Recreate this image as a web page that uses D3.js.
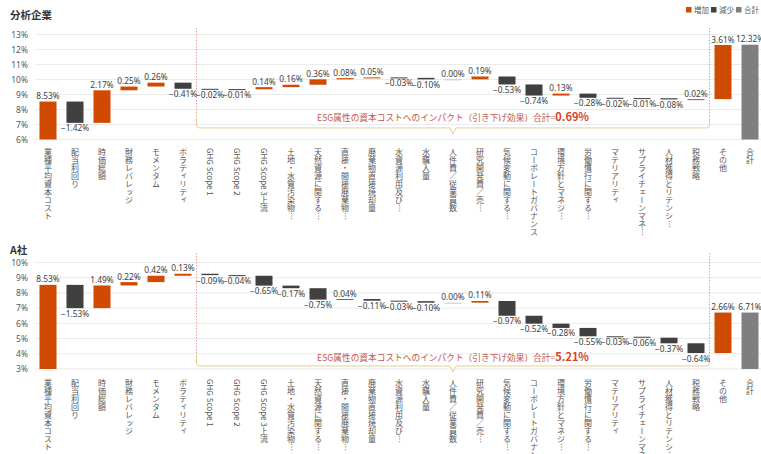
<!DOCTYPE html>
<html><head><meta charset="utf-8">
<script src="https://cdn.jsdelivr.net/npm/d3@7"></script>
<style>
body{margin:0;background:#fff}
svg{display:block;font-family:"Noto Sans CJK JP","Noto Sans",sans-serif}
</style>
</head><body>
<svg id="c" width="761" height="454"></svg>
<script>
const categories = ["業種平均資本コスト","配当利回り","時価総額","財務レバレッジ","モメンタム","ボラティリティ",
  "GHG Scope 1","GHG Scope 2","GHG Scope 3上流","土地・水質汚染物…","天然資源に関する…","直接・間接廃棄物…",
  "廃棄物直接焼却量","水資源利用及び…","水購入量","人件費／従業員数","研究開発費／売…","気候変動に関する…",
  "コーポレートガバナンス","環境方針とマネジ…","労働慣行に関する…","マテリアリティ","サプライチェーンマネ…",
  "人材獲得とリテンシ…","税務戦略","その他","合計"];
const valuesAnalysis = [8.53,-1.42,2.17,0.25,0.26,-0.41,-0.02,-0.01,0.14,0.16,0.36,0.08,0.05,-0.03,-0.10,0.00,0.19,
  -0.53,-0.74,0.13,-0.28,-0.02,-0.01,-0.08,0.02,3.61,12.32];
const valuesCompanyA = [8.53,-1.53,1.49,0.22,0.42,0.13,-0.09,-0.04,-0.65,-0.17,-0.75,0.04,-0.11,-0.03,-0.10,0.00,0.11,
  -0.97,-0.52,-0.28,-0.55,-0.03,-0.06,-0.37,-0.64,2.66,6.71];
const ticksAnalysis = [6,7,8,9,10,11,12,13];
const ticksCompanyA = [3,4,5,6,7,8,9,10];
const panelTitles = ["分析企業","A社"];
const esgTotals = ["0.69%","5.21%"];
const esgText = "ESG属性の資本コストへのインパクト（引き下げ効果）合計=";
const legendLabels = ["増加","減少","合計"];

const colors = {inc:"#d04a02", dec:"#404040", total:"#7f7f7f"};
const svg = d3.select("#c");

const x = d3.scaleBand().domain(categories).range([34.5, 763.5]).paddingInner(0.37).paddingOuter(0.185);

// legend
const leg = svg.append("g");
const legX = [686, 711, 736];
[colors.inc, colors.dec, colors.total].forEach((c,i)=>{
  leg.append("rect").attr("x",legX[i]).attr("y",7).attr("width",5.5).attr("height",5.5).attr("fill",c);
  leg.append("text").attr("x",legX[i]+8).attr("y",12.5).attr("font-size",7.5).attr("fill","#595959").text(legendLabels[i]);
});

const panels = [
  {title:panelTitles[0], titleY:19, values:valuesAnalysis, ticks:ticksAnalysis, top:34.5, bottom:139.5,
   labelTop:148, esg:esgTotals[0], braceV:6.77, textV:7.22, dotTop:28},
  {title:panelTitles[1], titleY:254, values:valuesCompanyA, ticks:ticksCompanyA, top:262.5, bottom:369,
   labelTop:379, esg:esgTotals[1], braceV:3.2, textV:3.53, dotTop:253}
];

const fmt = d3.format(".2f");

panels.forEach(p=>{
  const g = svg.append("g");
  const yMin = d3.min(p.ticks), yMax = d3.max(p.ticks);
  const y = d3.scaleLinear().domain([yMin,yMax]).range([p.bottom,p.top]);

  g.append("text").attr("x",10).attr("y",p.titleY).attr("font-size",10.5).attr("font-weight","bold")
    .attr("fill","#333").text(p.title);

  g.selectAll("line.grid").data(p.ticks).join("line").attr("class","grid")
    .attr("x1",35).attr("x2",761).attr("y1",d=>y(d)).attr("y2",d=>y(d))
    .attr("stroke","#e6e6e6").attr("stroke-width",0.8);

  const ax = g.append("g").attr("transform","translate(31,0)")
    .call(d3.axisLeft(y).tickValues(p.ticks).tickFormat(d=>d+"%").tickSize(0).tickPadding(3));
  ax.select(".domain").remove();
  ax.selectAll("text").attr("font-size",8.5).attr("fill","#595959").attr("font-family","\"Noto Sans\",sans-serif");

  let cum = 0;
  const bars = p.values.map((v,i)=>{
    let s,e,type;
    if(i===0){ s=yMin; e=v; cum=v; type="inc"; }
    else if(i===p.values.length-1){ s=yMin; e=v; type="total"; }
    else { s=cum; e=cum+v; cum=e; type = v<0?"dec":"inc"; }
    return {cat:categories[i], v, s, e, type};
  });

  const sepL = x(categories[6]) - x.step()*x.paddingInner()/2;
  const sepR = x(categories[25]) - x.step()*x.paddingInner()/2;
  const braceY = y(p.braceV);
  g.append("line").attr("x1",sepL).attr("x2",sepL).attr("y1",p.dotTop).attr("y2",braceY-10)
    .attr("stroke","#e08a80").attr("stroke-width",0.8).attr("stroke-dasharray","1.5,1.5");
  g.append("line").attr("x1",sepR).attr("x2",sepR).attr("y1",p.dotTop).attr("y2",braceY-10)
    .attr("stroke","#a0a0a0").attr("stroke-width",0.8).attr("stroke-dasharray","1.5,1.5");

  const mid = (sepL+sepR)/2;
  const r = 3;
  const path = `M${sepL},${braceY-10} L${sepL},${braceY-r} Q${sepL},${braceY} ${sepL+r},${braceY}
    L${mid-3},${braceY} L${mid},${braceY+6} L${mid+3},${braceY} L${sepR-r},${braceY}
    Q${sepR},${braceY} ${sepR},${braceY-r} L${sepR},${braceY-10}`;
  g.append("path").attr("d",path).attr("fill","none").attr("stroke","#e3cf95").attr("stroke-width",1);

  const t = g.append("text").attr("x",mid).attr("y",y(p.textV)).attr("text-anchor","middle");
  t.append("tspan").attr("font-size",8.7).attr("fill","#c4574c").text(esgText);
  t.append("tspan").attr("font-size",11).attr("font-weight","bold").attr("fill","#d9402e").text(p.esg);

  g.selectAll("rect.bar").data(bars).join("rect").attr("class","bar")
    .attr("x",d=>x(d.cat)).attr("width",x.bandwidth())
    .attr("y",d=>y(Math.max(d.s,d.e)))
    .attr("height",d=>Math.max(1,Math.abs(y(d.s)-y(d.e))))
    .attr("fill",d=>d.v===0?"#c8c8c8":colors[d.type]);

  g.selectAll("text.val").data(bars).join("text").attr("class","val")
    .attr("x",d=>x(d.cat)+x.bandwidth()/2)
    .attr("y",d=>d.type==="dec" ? y(Math.min(d.s,d.e))+8.5 : y(Math.max(d.s,d.e))-2.5)
    .attr("text-anchor","middle").attr("font-size",8.3).attr("fill","#404040")
    .attr("font-family","\"Noto Sans\",sans-serif")
    .text(d=>fmt(d.v)+"%");

  g.selectAll("text.cat").data(categories).join("text").attr("class","cat")
    .attr("x",d=>x(d)+x.bandwidth()/2).attr("y",p.labelTop)
    .style("writing-mode","vertical-rl")
    .attr("font-size",8).attr("letter-spacing",0).attr("fill","#555")
    .text(d=>d);
});
</script>
</body></html>
